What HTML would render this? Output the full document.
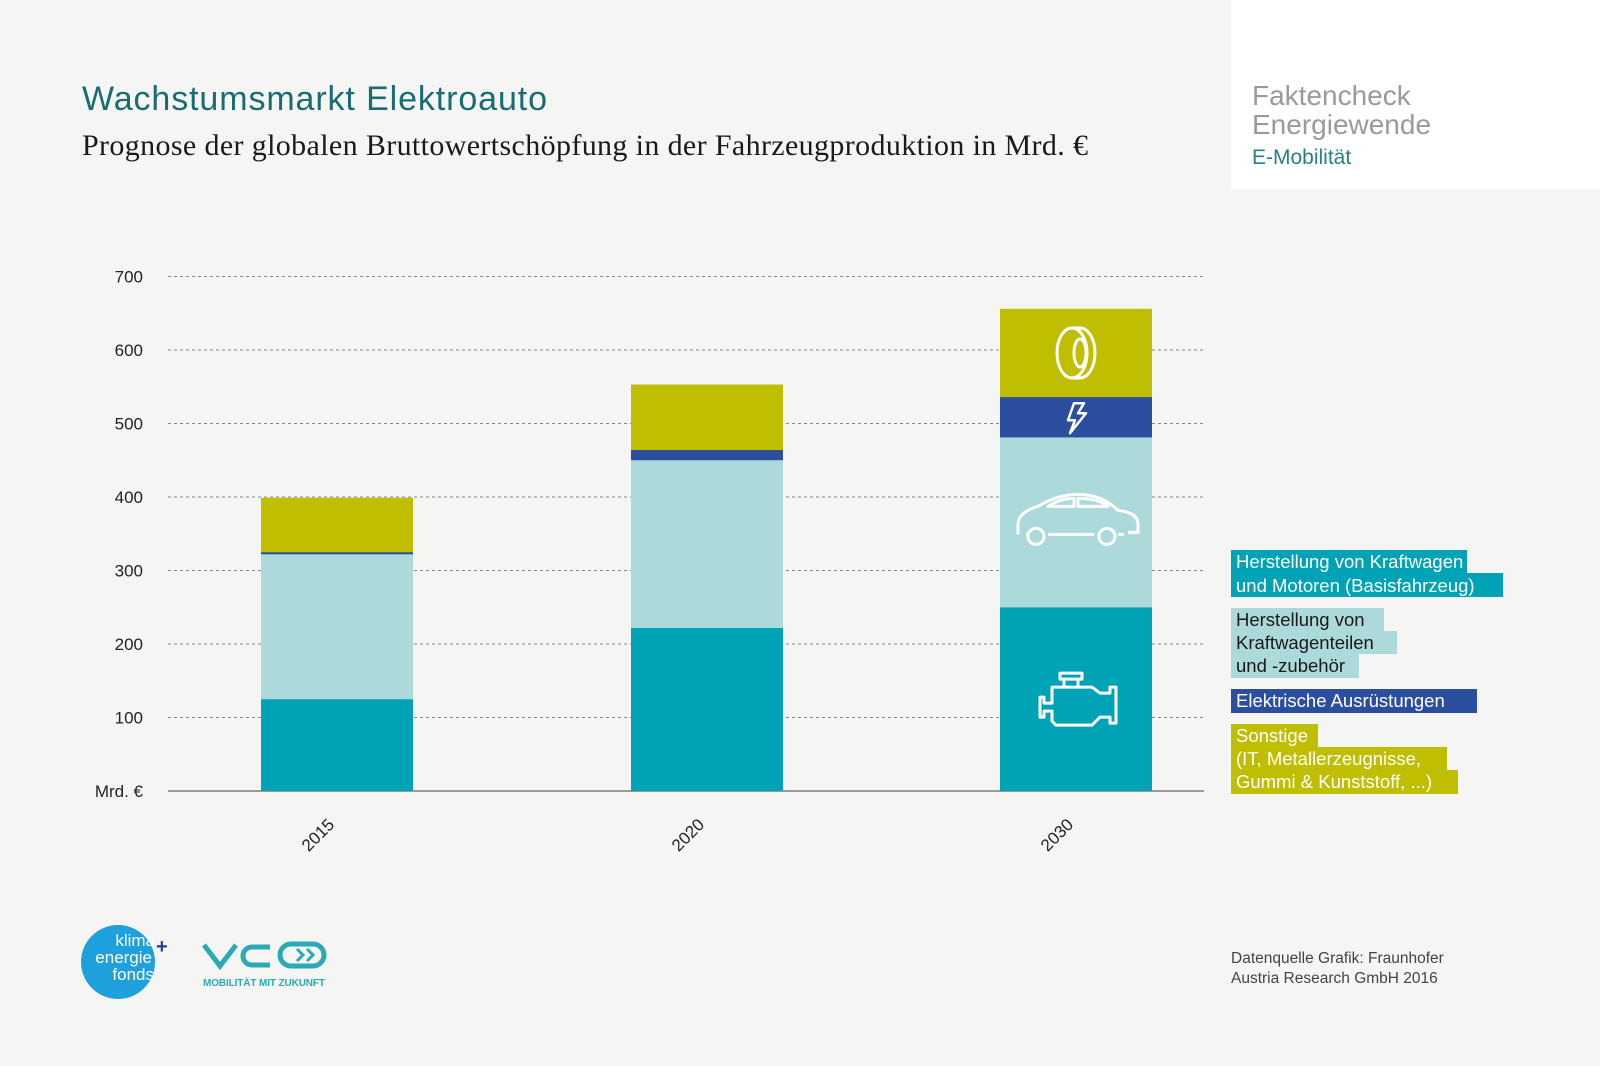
<!DOCTYPE html>
<html><head><meta charset="utf-8"><style>
html,body{margin:0;padding:0;background:#f5f5f3;}
svg{display:block;font-family:"Liberation Sans",sans-serif;}
</style></head><body>
<svg id="chart" width="1600" height="1066" viewBox="0 0 1600 1066">
<rect x="0" y="0" width="1600" height="1066" fill="#f5f5f3"/>
<rect x="1231" y="0" width="369" height="189" fill="#ffffff"/>
<text x="1252" y="105" font-size="28" fill="#9a9a9a">Faktencheck</text>
<text x="1252" y="134" font-size="28" fill="#9a9a9a">Energiewende</text>
<text x="1252" y="164" font-size="21" fill="#2a7f86">E-Mobilität</text>
<text x="82" y="110" font-size="34" fill="#1a6c74" textLength="465">Wachstumsmarkt Elektroauto</text>
<text x="82" y="155" font-size="30" fill="#1a1a1a" font-family="Liberation Serif, serif" textLength="1006">Prognose der globalen Bruttowertschöpfung in der Fahrzeugproduktion in Mrd. €</text>
<g id="grid"></g><g id="bars"></g><g id="icons"></g>
<g font-size="18.5">
<rect x="1231" y="550" width="236" height="23" fill="#00a3b5"/><rect x="1231" y="573" width="272" height="24" fill="#00a3b5"/>
<text x="1236" y="568" fill="#fff">Herstellung von Kraftwagen</text>
<text x="1236" y="592" fill="#fff">und Motoren (Basisfahrzeug)</text>
<rect x="1231" y="608" width="153" height="23" fill="#acd9d9"/><rect x="1231" y="631" width="166" height="23" fill="#acd9d9"/><rect x="1231" y="654" width="128" height="24" fill="#acd9d9"/>
<text x="1236" y="626" fill="#1a1a1a">Herstellung von</text>
<text x="1236" y="649" fill="#1a1a1a">Kraftwagenteilen</text>
<text x="1236" y="672" fill="#1a1a1a">und -zubehör</text>
<rect x="1231" y="689" width="246" height="24" fill="#2b4f9e"/>
<text x="1236" y="707" fill="#fff">Elektrische Ausrüstungen</text>
<rect x="1231" y="724" width="87" height="23" fill="#bfbe00"/><rect x="1231" y="747" width="216" height="23" fill="#bfbe00"/><rect x="1231" y="770" width="227" height="24" fill="#bfbe00"/>
<text x="1236" y="742" fill="#fff">Sonstige</text>
<text x="1236" y="765" fill="#fff">(IT, Metallerzeugnisse,</text>
<text x="1236" y="788" fill="#fff">Gummi &amp; Kunststoff, ...)</text>
</g>
<g>
<circle cx="118" cy="962" r="37" fill="#1ea0dc"/>
<text x="155" y="946" font-size="17" fill="#fff" text-anchor="end">klima</text>
<text x="152" y="963" font-size="17" fill="#fff" text-anchor="end">energie</text>
<text x="154" y="980" font-size="17" fill="#fff" text-anchor="end">fonds</text>
<text x="156" y="953" font-size="20" fill="#2b3c8e" font-weight="bold">+</text>
</g>
<g fill="none" stroke="#2aaab5" stroke-width="5">
<path d="M204 945 L220 966 L236 945"/>
<path d="M270 947 L252 947 A9 9 0 0 0 252 965 L270 965"/>
<rect x="280" y="944" width="44" height="22" rx="11"/>
<path d="M297 949 l6 6 -6 6 M307 949 l6 6 -6 6" stroke-width="3"/>
<text x="203" y="986" font-size="10" fill="#2aaab5" stroke="none" font-weight="bold" textLength="122">MOBILITÄT MIT ZUKUNFT</text>
</g>
<text x="1231" y="963" font-size="15.5" fill="#444">Datenquelle Grafik: Fraunhofer</text>
<text x="1231" y="983" font-size="15.5" fill="#444">Austria Research GmbH 2016</text>
</svg>
<script>
const categories = ["2015","2020","2030"];
const basis = [125,222,250];
const teile = [197,228,231];
const elektrisch = [3,14,55];
const sonstige = [74,89,120];
const yTicks = [100,200,300,400,500,600,700];
const NS="http://www.w3.org/2000/svg";
const y0=791, pxPer=0.735, xLeft=168, xRight=1204, bw=152;
const centers=[337,707,1076];
function yS(v){return y0-v*pxPer;}
function xS(i){return centers[i];}
function mk(t,a,p){const e=document.createElementNS(NS,t);for(const k in a)e.setAttribute(k,a[k]);p.appendChild(e);return e;}
const grid=document.getElementById('grid');
yTicks.forEach(v=>{
  const l=mk('line',{x1:xLeft,x2:xRight,y1:yS(v),y2:yS(v),stroke:'#888','stroke-width':1,'stroke-dasharray':'3,3'},grid);
  
  
  const t=mk('text',{x:143,y:yS(v)+6,'font-size':17,'text-anchor':'end',fill:'#222'},grid);
  t.textContent=v;
  
  
});
const ax=mk('line',{x1:xLeft,x2:xRight,y1:y0,y2:y0,stroke:'#666','stroke-width':1.2},grid);


const mt=mk('text',{x:143,y:y0+6,'font-size':17,'text-anchor':'end',fill:'#222'},grid);
mt.textContent='Mrd. €';


const bars=document.getElementById('bars');
const series=[[basis,'#00a3b5','basis'],[teile,'#acd9d9','teile'],[elektrisch,'#2b4f9e','elektrisch'],[sonstige,'#bfbe00','sonstige']];
categories.forEach((c,i)=>{
  let cum=0;
  series.forEach(([arr,col,nm])=>{
    const v=arr[i];
    const r=mk('rect',{x:xS(i)-bw/2,y:yS(cum+v),width:bw,height:v*pxPer,fill:col},bars);
    
    
    cum+=v;
  });
  const t=mk('text',{x:0,y:0,'font-size':17,fill:'#222','text-anchor':'middle',transform:`translate(${xS(i)-15},${y0+48}) rotate(-45)`},bars);
  t.textContent=c;
  
  
});
const ic=document.getElementById('icons');
const cx=xS(2);
function mid(a,b){return yS(a+b/2);}
let b0=0;
const yEng=mid(0,basis[2]); b0+=basis[2];
const yCar=mid(b0,teile[2]); b0+=teile[2];
const yEl=mid(b0,elektrisch[2]); b0+=elektrisch[2];
const yTire=mid(b0,sonstige[2]);
const g=mk('g',{fill:'none',stroke:'#fff','stroke-width':3,'stroke-linejoin':'round'},ic);


mk('path',{d:`M${cx-4} ${yTire-25} a15 25 0 1 1 0 50 a15 25 0 1 1 0 -50 M${cx-4} ${yTire-25} h8 a15 25 0 0 1 0 50 h-8 M${cx+4} ${yTire-14} a6 14 0 1 1 0 28 a6 14 0 1 1 0 -28`},g);
mk('path',{d:`M${cx-2} ${yEl-14} h10 l-6 10 h8 l-16 20 l5 -13 h-7 z`,'stroke-width':2.5},g);
mk('path',{d:`M${cx-58} ${yCar+12} v-10 q0 -12 20 -18 q20 -12 40 -12 q24 0 40 16 q20 2 20 14 v8 h-10 M${cx-28} ${yCar+12} h46 M${cx-50} ${yCar+12} h2 M${cx+42} ${yCar+12} h6 M${cx-28} ${yCar-16} q12 -8 26 -8 v8 z M${cx+2} ${yCar-24} q20 0 30 8 h-30 z`},g);
mk('circle',{cx:cx-40,cy:yCar+14,r:8},g);
mk('circle',{cx:cx+31,cy:yCar+14,r:8},g);
mk('path',{d:`M${cx-24} ${yEng-12} h40 l8 6 h10 v-6 h6 v36 h-6 v-6 h-10 l-8 8 h-36 l-4 -4 v-10 h-8 v6 h-4 v-20 h4 v6 h8 v-12 z M${cx-12} ${yEng-12} v-8 h14 v8 M${cx-16} ${yEng-26} h22 v6 h-22 z`},g);
</script>
</body></html>
